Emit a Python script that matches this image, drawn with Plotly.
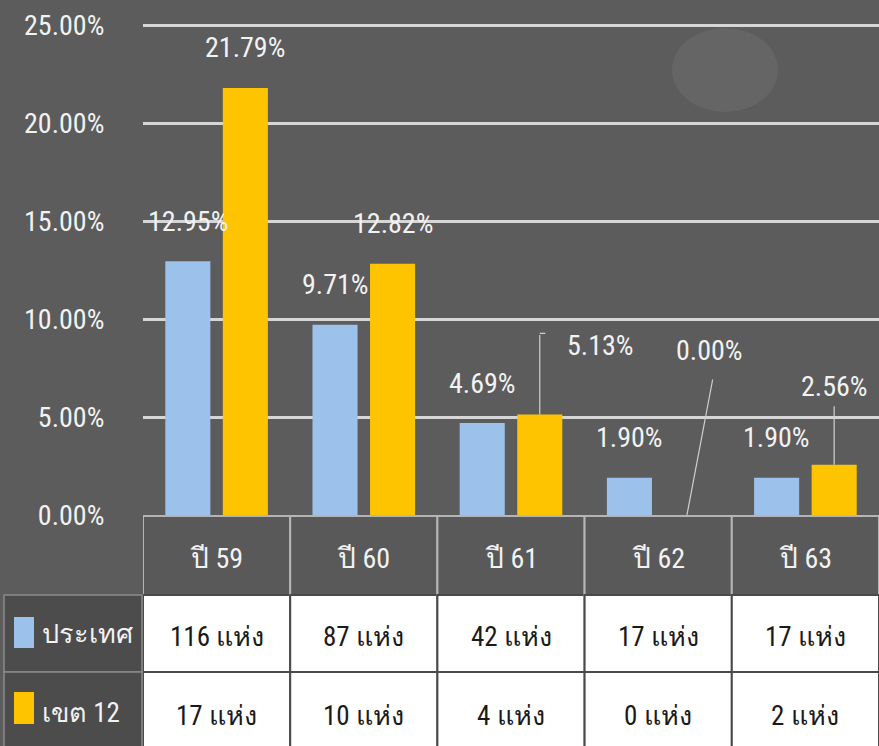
import plotly.graph_objects as go

# ---------------- data ----------------
categories = ["ปี 59", "ปี 60", "ปี 61", "ปี 62", "ปี 63"]
series_names = ["ประเทศ", "เขต 12"]
country_pct = [12.95, 9.71, 4.69, 1.90, 1.90]
region_pct = [21.79, 12.82, 5.13, 0.00, 2.56]
country_count = [116, 87, 42, 17, 17]
region_count = [17, 10, 4, 0, 2]
count_unit = "แห่ง"
y_tick_vals = [0, 5, 10, 15, 20, 25]

# ---------------- style ----------------
W, H = 879, 746
BG = "#5c5c5c"
BLUE = "#9cc2ec"
GOLD = "#ffc400"
GRID = "#d6d6d6"
FONT = "Roboto Condensed, Roboto, Noto Sans, sans-serif"
TXT = "#f2f2f2"


def py(px):
    return (H - px) / H


def pxx(px):
    return px / W


PLOT_LEFT = 143
ZERO_Y = 515
PX_PER_UNIT = 19.6
Y_MAX = 25.6
TOP_Y = ZERO_Y - Y_MAX * PX_PER_UNIT
BAR_SHIFT = 28.75

fig = go.Figure()
fig.add_trace(go.Bar(
    x=categories, y=country_pct, name=series_names[0],
    marker=dict(color=BLUE, line=dict(width=0)),
))
fig.add_trace(go.Bar(
    x=categories, y=region_pct, name=series_names[1],
    marker=dict(color=GOLD, line=dict(width=0)),
))

annotations = []
shapes = []

# subtle background texture (decorative)
shapes.append(dict(type="circle", xref="paper", yref="paper", x0=pxx(672), x1=pxx(778),
                   y0=py(112), y1=py(28), fillcolor="rgba(255,255,255,0.06)",
                   line=dict(width=0), layer="below"))

# data labels
label_font = dict(family=FONT, size=28, color=TXT)
gold_label_off = {2: (61, 69), 3: (23, 165), 4: (0, 78)}
for i, (c, v) in enumerate(zip(categories, country_pct)):
    annotations.append(dict(x=c, y=v, xref="x", yref="y", text=f"{v:.2f}%",
                            showarrow=False, xshift=-BAR_SHIFT, yshift=40,
                            yanchor="middle", font=label_font))
for i, (c, v) in enumerate(zip(categories, region_pct)):
    dx, dy = gold_label_off.get(i, (0, 40))
    annotations.append(dict(x=c, y=v, xref="x", yref="y", text=f"{v:.2f}%",
                            showarrow=False, xshift=BAR_SHIFT + dx, yshift=dy,
                            yanchor="middle", font=label_font))

# leader lines (gold series)
leader = dict(showarrow=True, arrowhead=0, arrowwidth=1.2, arrowcolor="#d0d0d0",
              standoff=0, startstandoff=0, text="", xref="x", yref="y")
annotations.append(dict(leader, x=categories[2], y=region_pct[2], xshift=BAR_SHIFT,
                        ax=0, ay=-81))
annotations.append(dict(leader, x=categories[2], y=region_pct[2], xshift=BAR_SHIFT,
                        yshift=81, ax=7, ay=0))
annotations.append(dict(leader, x=categories[3], y=region_pct[3], xshift=BAR_SHIFT,
                        ax=26, ay=-137))
annotations.append(dict(leader, x=categories[4], y=region_pct[4], xshift=BAR_SHIFT,
                        ax=0, ay=-60))

# ---------------- data table ----------------
HDR_TOP, HDR_BOT = 516, 595
R1_TOP, R1_BOT = 595, 672
R2_TOP, R2_BOT = 672, 760
for i, c in enumerate(categories):
    shapes.append(dict(type="rect", xref="x", yref="paper", x0=i - 0.5, x1=i + 0.5,
                       y0=py(HDR_BOT), y1=py(HDR_TOP), fillcolor="#595959",
                       line=dict(color="#b5b5b5", width=2), layer="above"))
    for (t, b) in [(R1_TOP, R1_BOT), (R2_TOP, R2_BOT)]:
        shapes.append(dict(type="rect", xref="x", yref="paper", x0=i - 0.5, x1=i + 0.5,
                           y0=py(b), y1=py(t), fillcolor="white",
                           line=dict(color="#4a4a4a", width=2), layer="above"))
    annotations.append(dict(x=c, y=py(558), xref="x", yref="paper", text=c,
                            showarrow=False, yanchor="middle",
                            font=dict(family=FONT, size=28, color=TXT)))
    annotations.append(dict(x=c, y=py(637), xref="x", yref="paper",
                            text=f"{country_count[i]} {count_unit}",
                            showarrow=False, yanchor="middle",
                            font=dict(family=FONT, size=27, color="#1a1a1a")))
    annotations.append(dict(x=c, y=py(716), xref="x", yref="paper",
                            text=f"{region_count[i]} {count_unit}",
                            showarrow=False, yanchor="middle",
                            font=dict(family=FONT, size=27, color="#1a1a1a")))

# left column (legend keys)
for (t, b), name, col, (st, sb), ty in [((R1_TOP, R1_BOT), series_names[0], BLUE, (617, 648), 634),
                                        ((R2_TOP, R2_BOT), series_names[1], GOLD, (692, 724), 713)]:
    shapes.append(dict(type="rect", xref="paper", yref="paper", x0=pxx(4), x1=pxx(PLOT_LEFT - 1),
                       y0=py(b), y1=py(t), fillcolor="#4c4c4c",
                       line=dict(color="#8a8a8a", width=1.5), layer="above"))
    shapes.append(dict(type="rect", xref="paper", yref="paper", x0=pxx(14), x1=pxx(34),
                       y0=py(sb), y1=py(st), fillcolor=col, line=dict(width=0), layer="above"))
    annotations.append(dict(x=pxx(40), y=py(ty), xref="paper", yref="paper",
                            text=name, showarrow=False, xanchor="left", yanchor="middle",
                            font=dict(family=FONT, size=27, color=TXT)))

fig.update_layout(
    width=W, height=H,
    margin=dict(l=0, r=0, t=0, b=0, autoexpand=False),
    paper_bgcolor=BG, plot_bgcolor="rgba(0,0,0,0)",
    barmode="group", bargap=0.218, bargroupgap=0.217,
    showlegend=False,
    font=dict(family=FONT, color=TXT),
    annotations=annotations, shapes=shapes,
    xaxis=dict(domain=[pxx(PLOT_LEFT), 1], type="category", range=[-0.5, 4.5],
               showticklabels=False, showgrid=False, zeroline=False, showline=False,
               automargin=False),
    yaxis=dict(domain=[py(ZERO_Y), py(TOP_Y)], range=[0, Y_MAX], tickvals=y_tick_vals,
               ticktext=[f"{v:.2f}%" for v in y_tick_vals],
               showgrid=True, gridcolor=GRID, gridwidth=3, zeroline=False,
               ticks="outside", ticklen=32, tickcolor="rgba(0,0,0,0)",
               automargin=False,
               tickfont=dict(family=FONT, size=28, color=TXT)),
)

fig.write_html("out.html", config={"displayModeBar": False},
               post_script="document.body.style.margin='0';document.body.style.overflow='hidden';")
